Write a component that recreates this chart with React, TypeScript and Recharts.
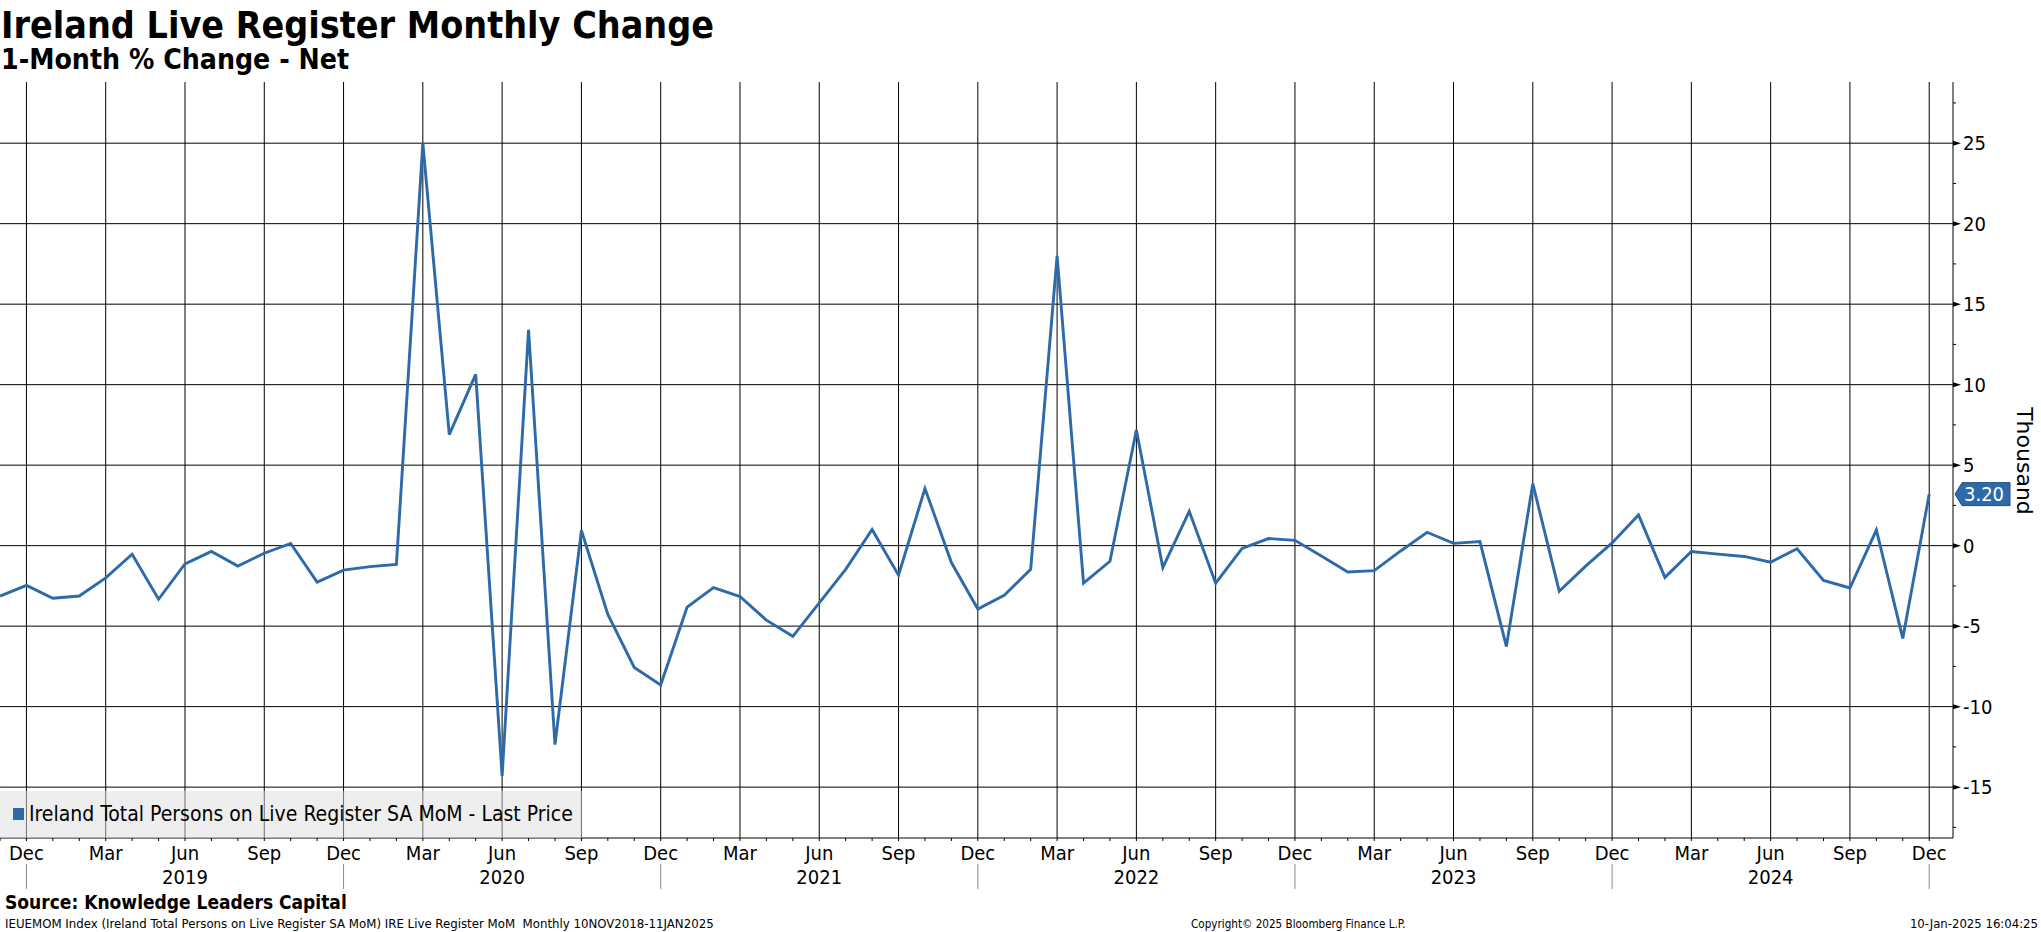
import React from 'react';
import { LineChart, Line, XAxis, YAxis, CartesianGrid, Legend } from 'recharts';

const FONT = "'DejaVu Sans Condensed', 'DejaVu Sans', sans-serif";
const BLUE = '#2d6aa9';

const months: string[] = [
  'Nov 2018', 'Dec 2018',
  'Jan 2019', 'Feb 2019', 'Mar 2019', 'Apr 2019', 'May 2019', 'Jun 2019', 'Jul 2019', 'Aug 2019', 'Sep 2019', 'Oct 2019', 'Nov 2019', 'Dec 2019',
  'Jan 2020', 'Feb 2020', 'Mar 2020', 'Apr 2020', 'May 2020', 'Jun 2020', 'Jul 2020', 'Aug 2020', 'Sep 2020', 'Oct 2020', 'Nov 2020', 'Dec 2020',
  'Jan 2021', 'Feb 2021', 'Mar 2021', 'Apr 2021', 'May 2021', 'Jun 2021', 'Jul 2021', 'Aug 2021', 'Sep 2021', 'Oct 2021', 'Nov 2021', 'Dec 2021',
  'Jan 2022', 'Feb 2022', 'Mar 2022', 'Apr 2022', 'May 2022', 'Jun 2022', 'Jul 2022', 'Aug 2022', 'Sep 2022', 'Oct 2022', 'Nov 2022', 'Dec 2022',
  'Jan 2023', 'Feb 2023', 'Mar 2023', 'Apr 2023', 'May 2023', 'Jun 2023', 'Jul 2023', 'Aug 2023', 'Sep 2023', 'Oct 2023', 'Nov 2023', 'Dec 2023',
  'Jan 2024', 'Feb 2024', 'Mar 2024', 'Apr 2024', 'May 2024', 'Jun 2024', 'Jul 2024', 'Aug 2024', 'Sep 2024', 'Oct 2024', 'Nov 2024', 'Dec 2024',
];

const values: number[] = [
  -3.13, -2.47,
  -3.27, -3.13, -2.0, -0.53, -3.33, -1.14, -0.36, -1.27, -0.47, 0.14, -2.27, -1.52,
  -1.3, -1.16, 25.0, 6.9, 10.64, -14.3, 13.41, -12.36, 0.94, -4.27, -7.57, -8.65,
  -3.82, -2.61, -3.16, -4.63, -5.63, -3.55, -1.47, 1.0, -1.83, 3.55, -1.05, -3.94,
  -3.08, -1.47, 18.0, -2.33, -0.97, 7.18, -1.36, 2.13, -2.33, -0.17, 0.44, 0.33,
  -0.65, -1.64, -1.55, -0.33, 0.83, 0.14, 0.25, -6.26, 3.85, -2.83, -1.27, 0.17,
  1.91, -1.97, -0.36, -0.53, -0.67, -1.03, -0.19, -2.16, -2.63, 0.97, -5.76, 3.2,
];

const quarterMonths: string[] = ['Mar', 'Jun', 'Sep', 'Dec'];
const yMajorTicks: number[] = [-15, -10, -5, 0, 5, 10, 15, 20, 25];
const yMinorTicks: number[] = [-17.5, -12.5, -7.5, -2.5, 2.5, 7.5, 12.5, 17.5, 22.5, 27.5];
const seriesName = 'Ireland Total Persons on Live Register SA MoM - Last Price';
const lastValue = values[values.length - 1];

const data = months.map((m, i) => ({ i, label: m, v: values[i] }));
const xTicks = months.map((_, i) => i);
const quarterIdx = xTicks.filter((i) => quarterMonths.includes(months[i].slice(0, 3)));
const yTicks = [...yMajorTicks, ...yMinorTicks, lastValue].sort((a, b) => a - b);

const XTick = (props: any) => {
  const { x, y, payload } = props;
  const i = payload.value as number;
  const [mon, yr] = months[i].split(' ');
  const isQuarter = quarterMonths.includes(mon);
  return (
    <g>
      <line x1={x} y1={y} x2={x} y2={y + 3} stroke="#000" strokeWidth={1} />
      {isQuarter && (
        <text x={x} y={y + 22} textAnchor="middle" fontSize={20} fontFamily={FONT} fill="#000">
          {mon}
        </text>
      )}
      {mon === 'Dec' && <line x1={x} y1={y + 26} x2={x} y2={y + 51} stroke="#8a8a8a" strokeWidth={1} />}
      {mon === 'Jun' && (
        <text x={x} y={y + 46} textAnchor="middle" fontSize={20} fontFamily={FONT} fill="#000">
          {yr}
        </text>
      )}
    </g>
  );
};

const YTick = (props: any) => {
  const { x, y, payload } = props;
  const v = payload.value as number;
  if (v === lastValue) {
    return (
      <g>
        <polygon
          points={`${x + 2},${y} ${x + 9},${y - 11.5} ${x + 57},${y - 11.5} ${x + 57},${y + 11.5} ${x + 9},${y + 11.5}`}
          fill={BLUE}
          stroke="#1f4f80"
          strokeWidth={1}
        />
        <text x={x + 11} y={y + 7} fontSize={20} fontFamily={FONT} fill="#fff">
          {v.toFixed(2)}
        </text>
      </g>
    );
  }
  if (yMajorTicks.includes(v)) {
    return (
      <g>
        <polygon points={`${x},${y - 2.5} ${x + 8},${y} ${x},${y + 2.5}`} fill="#000" />
        <text x={x + 10} y={y + 7} fontSize={20} fontFamily={FONT} fill="#000">
          {String(v)}
        </text>
      </g>
    );
  }
  return <line x1={x} y1={y} x2={x + 3} y2={y} stroke="#000" strokeWidth={1} />;
};

const LegendBox = (props: any) => {
  const item = props.payload && props.payload[0];
  return (
    <div
      style={{
        width: 582,
        height: 47,
        background: 'rgba(222,222,222,0.5)',
        position: 'relative',
        boxSizing: 'border-box',
        borderTopLeftRadius: 3,
      }}
    >
      <div style={{ position: 'absolute', left: 13, top: 17, width: 11, height: 12, background: BLUE }} />
      <div
        style={{
          position: 'absolute',
          left: 29,
          top: 10,
          fontFamily: FONT,
          fontSize: 21,
          lineHeight: '26px',
          color: '#000',
          whiteSpace: 'nowrap',
        }}
      >
        {item ? item.value : seriesName}
      </div>
    </div>
  );
};

export default function App() {
  return (
    <div style={{ position: 'absolute', left: 0, top: 0, width: 2041, height: 932, background: '#fff', overflow: 'hidden' }}>
      <LineChart width={2041} height={932} data={data} margin={{ top: 82, right: 0, bottom: 0, left: 0 }}>
        <CartesianGrid stroke="#000" strokeWidth={1} horizontalValues={yMajorTicks} verticalValues={quarterIdx} />
        <XAxis
          type="number"
          dataKey="i"
          domain={[0, 73.9]}
          allowDataOverflow
          ticks={xTicks}
          interval={0}
          tick={<XTick />}
          tickLine={false}
          tickSize={0}
          tickMargin={0}
          height={94}
          axisLine={{ stroke: '#000', strokeWidth: 1 }}
        />
        <YAxis
          orientation="right"
          type="number"
          domain={[-18.16, 28.8]}
          allowDataOverflow
          ticks={yTicks}
          interval={0}
          tick={<YTick />}
          tickLine={false}
          tickSize={0}
          tickMargin={0}
          width={88}
          axisLine={{ stroke: '#000', strokeWidth: 1 }}
        />
        <Legend
          layout="horizontal"
          verticalAlign="middle"
          align="center"
          wrapperStyle={{ position: 'absolute', left: 0, top: 791, width: 582, height: 47, margin: 0 }}
          content={(p: any) => <LegendBox payload={p.payload} />}
        />
        <Line
          type="linear"
          dataKey="v"
          name={seriesName}
          stroke={BLUE}
          strokeWidth={2.9}
          dot={false}
          activeDot={false}
          isAnimationActive={false}
        />
      </LineChart>
      <svg
        width={2041}
        height={932}
        style={{ position: 'absolute', left: 0, top: 0, pointerEvents: 'none' }}
      >
        <text x={1} y={38} fontFamily={FONT} fontWeight="bold" fontSize={37.3} fill="#000">
          Ireland Live Register Monthly Change
        </text>
        <text x={1} y={69} fontFamily={FONT} fontWeight="bold" fontSize={28.2} fill="#000">
          1-Month % Change - Net
        </text>
        <text
          x={2017}
          y={461}
          transform="rotate(90, 2017, 461)"
          textAnchor="middle"
          fontFamily="'DejaVu Sans', sans-serif"
          fontSize={22}
          fill="#000"
        >
          Thousand
        </text>
        <text x={5} y={909} fontFamily={FONT} fontWeight="bold" fontSize={19} fill="#000">
          Source: Knowledge Leaders Capital
        </text>
        <text x={5} y={928} fontFamily={FONT} fontSize={13.1} fill="#000" style={{ whiteSpace: 'pre' }}>
          {'IEUEMOM Index (Ireland Total Persons on Live Register SA MoM) IRE Live Register MoM  Monthly 10NOV2018-11JAN2025'}
        </text>
        <text x={1191} y={928} fontFamily={FONT} fontSize={11.6} fill="#000">
          Copyright© 2025 Bloomberg Finance L.P.
        </text>
        <text x={2038} y={928} textAnchor="end" fontFamily={FONT} fontSize={13} fill="#000">
          10-Jan-2025 16:04:25
        </text>
      </svg>
    </div>
  );
}
